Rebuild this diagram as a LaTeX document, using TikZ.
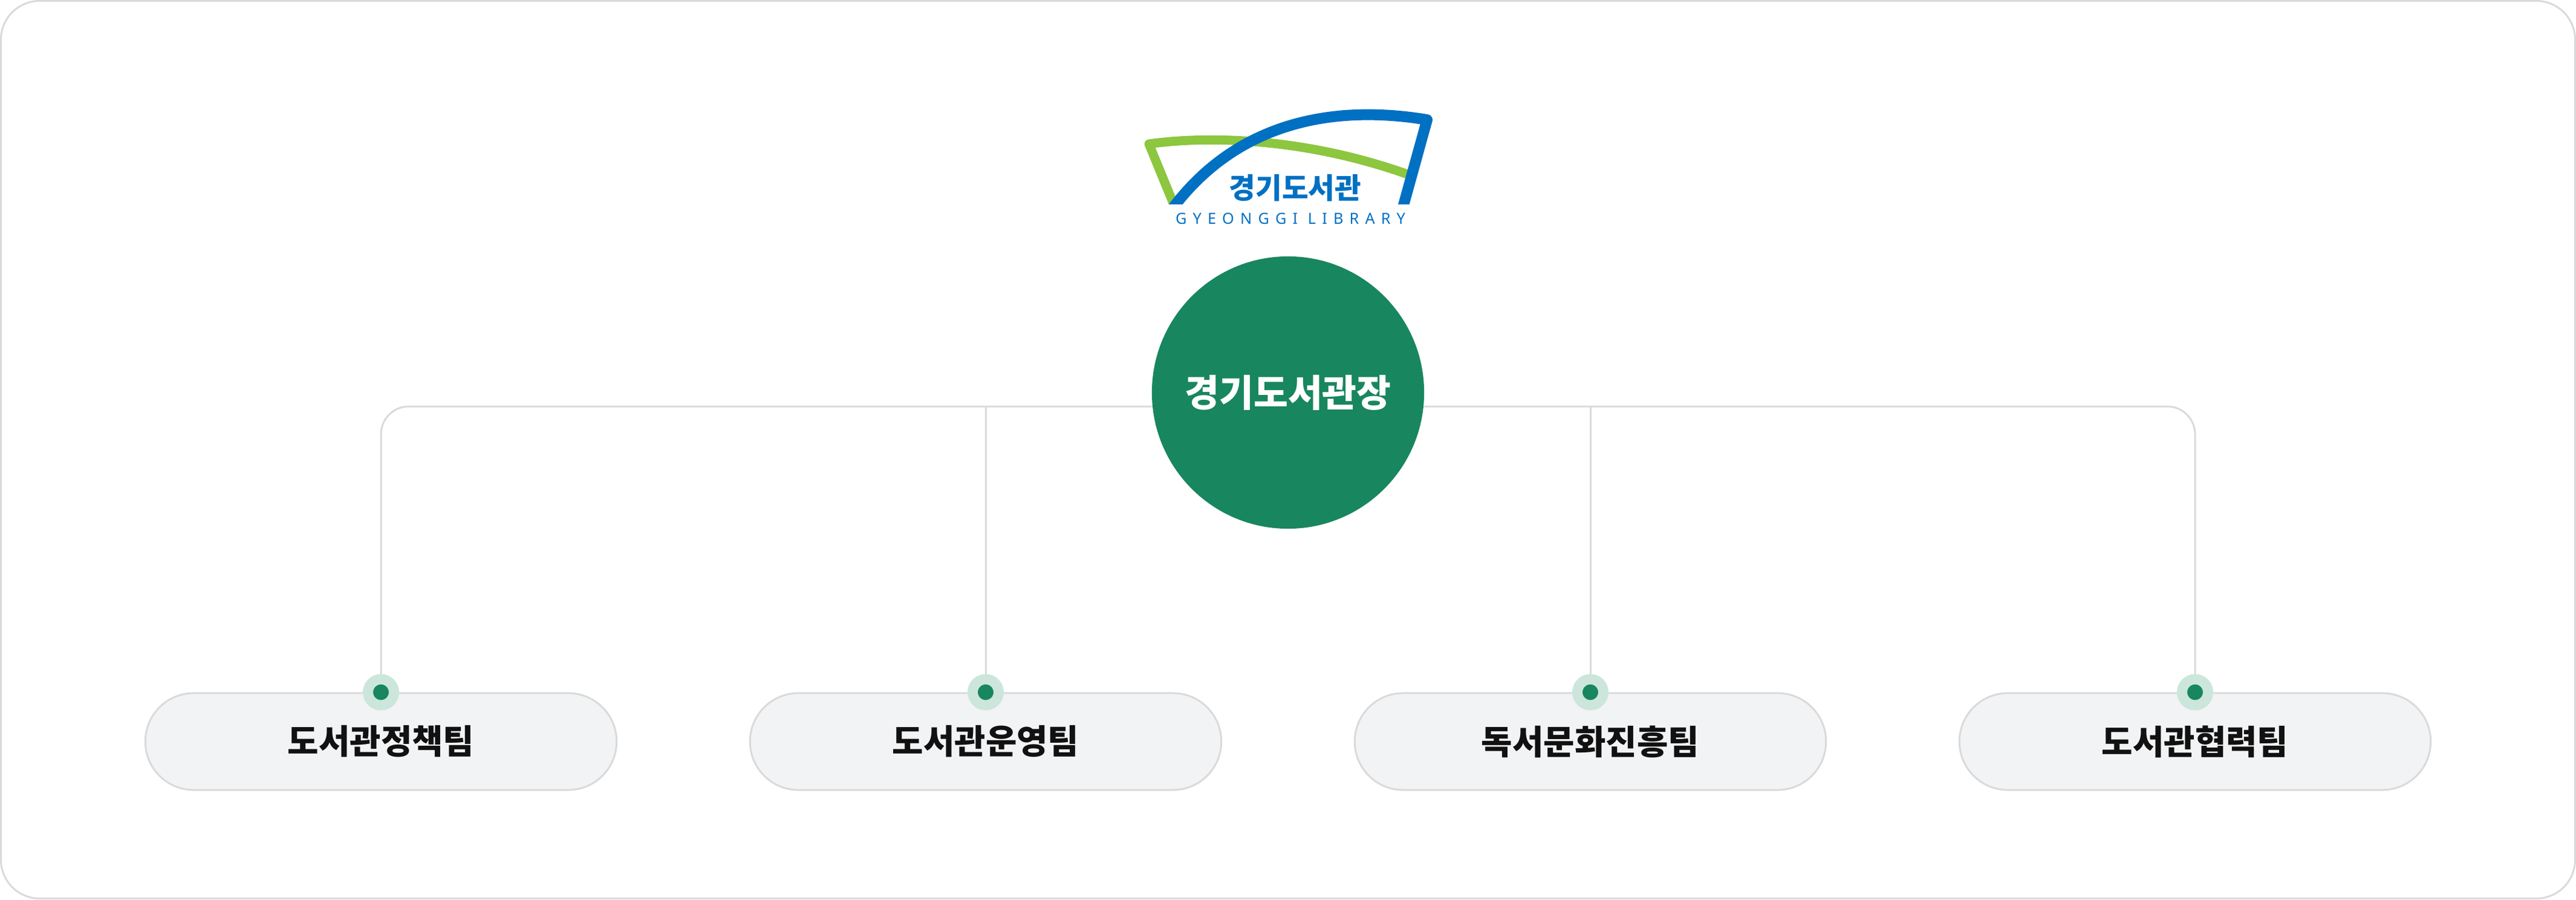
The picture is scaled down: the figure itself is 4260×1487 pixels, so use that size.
\documentclass[tikz,border=0pt]{standalone}
\usepackage{fontspec}
\usepackage{tikz}
\usetikzlibrary{positioning,backgrounds}
\newfontfamily\kr{Noto Sans CJK KR}
\newfontfamily\logolat[LetterSpace=40]{Noto Sans}
\definecolor{chiefgreen}{HTML}{18865F}
\definecolor{halogreen}{HTML}{CCE6DC}
\definecolor{logoblue}{HTML}{0070C3}
\definecolor{logogreen}{HTML}{8DC63F}
\definecolor{linegray}{HTML}{DADADA}
\definecolor{boxfill}{HTML}{F2F3F5}
\definecolor{textblack}{HTML}{111111}

\begin{document}
\begin{tikzpicture}[
x=0.01cm, y=-0.01cm,
font=\kr,
chief/.style={circle,fill=chiefgreen,minimum size=4.5cm,inner sep=0pt,text=white,font=\kr\bfseries\fontsize{17.6pt}{20pt}\selectfont},
team/.style={rectangle,rounded corners=0.8cm,draw=linegray,line width=0.3mm,fill=boxfill,minimum width=7.79cm,minimum height=1.6cm,text=textblack,font=\kr\bfseries\fontsize{15.9pt}{18pt}\selectfont},
pin/.style={circle,draw=halogreen,line width=1.7mm,fill=chiefgreen,minimum size=4.3mm,inner sep=0pt},
link/.style={draw=linegray,line width=0.3mm,rounded corners=4.6mm}
]
    % page and frame
    \useasboundingbox (0,0) rectangle (4260,1487);
    \draw[linegray, line width=0.3mm, rounded corners=6.4mm]
        (1.5,1.5) rectangle (4258.5,1485.5);

    % logo
    \begin{scope}
        \clip (1850,120) rectangle (2420,337);
        \draw[logogreen, line width=1.5mm, line join=round]
            (1946,350) -- (1900,238) .. controls (2000,224) and (2160,228) .. (2330,289);
        \draw[logoblue, line width=1.8mm, line join=round]
            (1935,350) .. controls (2037,210) and (2191,170) .. (2360,198) -- (2318,350);
    \end{scope}
    \node[text=logoblue, font=\kr\bfseries\fontsize{13.5pt}{16pt}\selectfont] (logo) at (2142,311) {경기도서관};
    \node[text=logoblue, font=\logolat\bfseries\fontsize{7.2pt}{9pt}\selectfont] (logoname) at (2134,361) {GYEONGGI LIBRARY};

    % chief
    \node[chief] (chief) at (2130,649) {경기도서관장};
    \coordinate (bus) at (2130,672);

    % teams
    \node[team] (t1) at (630,1226) {도서관정책팀};
    \node[team] (t2) at (1630,1226) {도서관운영팀};
    \node[team] (t3) at (2630,1226) {독서문화진흥팀};
    \node[team] (t4) at (3630,1226) {도서관협력팀};

    \node[pin] (d1) at (t1.north) {};
    \node[pin] (d2) at (t2.north) {};
    \node[pin] (d3) at (t3.north) {};
    \node[pin] (d4) at (t4.north) {};

    % connectors
    \begin{scope}[on background layer]
        \draw[link] (d1.center) |- (bus) -| (d4.center);
        \draw[link] (d2.center |- bus) -- (d2.center);
        \draw[link] (d3.center |- bus) -- (d3.center);
    \end{scope}

\end{tikzpicture}
\end{document}
